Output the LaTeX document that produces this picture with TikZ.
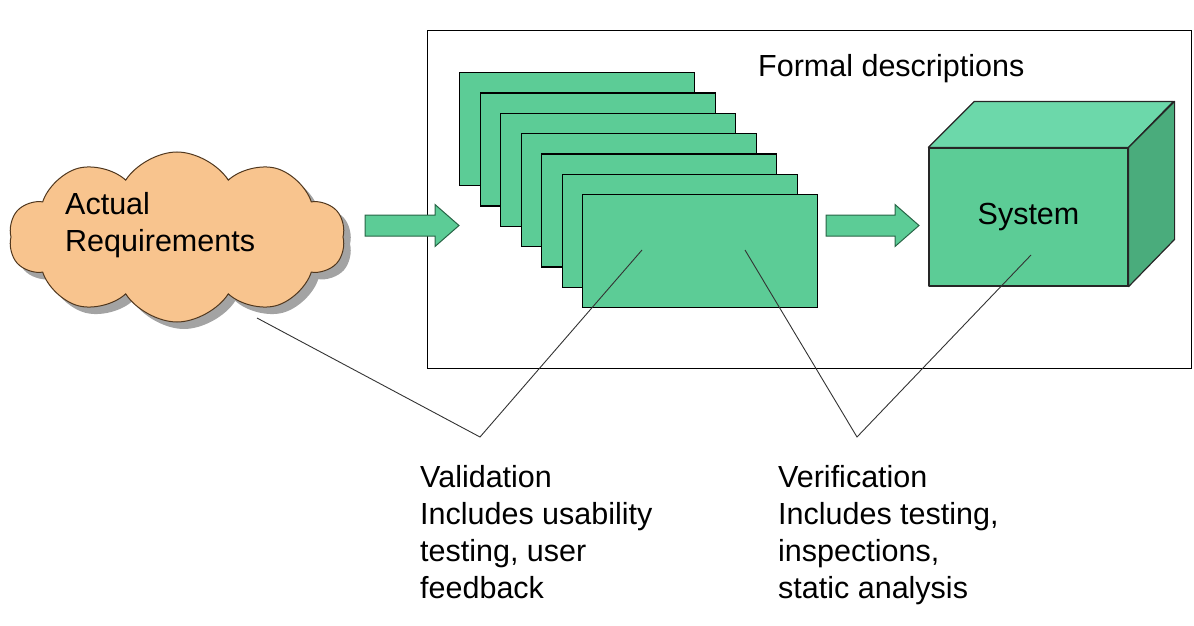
\documentclass[tikz,border=0pt]{standalone}
\usepackage{fontspec}
\setmainfont{Liberation Sans}
\usetikzlibrary{shapes.symbols,shadows}
\definecolor{pg}{RGB}{92,204,150}
\definecolor{pgtop}{RGB}{108,216,170}
\definecolor{pgside}{RGB}{74,172,124}
\definecolor{pgline}{RGB}{40,100,70}
\definecolor{cloudfill}{RGB}{248,196,142}
\definecolor{cloudline}{RGB}{80,55,30}
\begin{document}
\begin{tikzpicture}[x=1pt,y=-1pt,
  font=\fontsize{30.5}{37}\selectfont,
  page/.style={draw=black, line width=1.4pt, fill=pg, minimum width=235pt, minimum height=113pt, anchor=north west, inner sep=0pt},
  blockarrow/.style={draw=pgline, line width=1pt, fill=pg},
  conn/.style={draw=black!80, line width=0.9pt},
  lbl/.style={anchor=base west, inner sep=0pt},
  face/.style={draw=black!85, line width=1.2pt, line join=round}]
\useasboundingbox (0,0) rectangle (1194,626);
% frame
\node[draw=black, line width=1.4pt, minimum width=764pt, minimum height=338pt, anchor=north west, inner sep=0pt] (frame) at (427,30) {};
\node[lbl] (formal) at (758,77) {Formal descriptions};
% cloud
\node[cloud, cloud puffs=10, cloud puff arc=115, aspect=2.0, draw=cloudline, line width=1pt, fill=cloudfill,
  minimum width=336pt, minimum height=170pt, inner sep=0pt,
  drop shadow={shadow xshift=7pt, shadow yshift=-7pt, fill=black!45, opacity=0.8}] (cloud) at (177,237) {};
\node[lbl] (req) at (65,214) {\begin{tabular}[t]{@{}l@{}}Actual\\Requirements\end{tabular}};
% block arrows
\coordinate (a1) at (365,225.5);
\coordinate (a2) at (826,225.5);
\draw[blockarrow] (a1) ++(0,-10.5) -- ++(70,0) -- ++(0,-10.5) -- ++(24,21) -- ++(-24,21) -- ++(0,-10.5) -- ++(-70,0) -- cycle;
\draw[blockarrow] (a2) ++(0,-10.5) -- ++(69,0) -- ++(0,-10.5) -- ++(24,21) -- ++(-24,21) -- ++(0,-10.5) -- ++(-69,0) -- cycle;
% stacked pages
\foreach \i in {0,...,6} {
  \node[page] (p\i) at ({459+20.5*\i},{72+20.3*\i}) {};
}
% cube
\node[face, fill=pg, minimum width=199pt, minimum height=138pt, inner sep=0pt] (sys) at (1028.5,217) {System};
\draw[face, fill=pgtop] (sys.north west) -- ++(46,-46) -- ++(199,0) -- (sys.north east) -- cycle;
\draw[face, fill=pgside] (sys.north east) -- ++(46,-46) -- ++(0,138) -- (sys.south east) -- cycle;
% connector lines
\coordinate (c1) at (257,318);
\coordinate (v1) at (480,437);
\coordinate (pa) at (642,250);
\coordinate (pb) at (745,250);
\coordinate (v2) at (857,437);
\coordinate (sp) at (1031,255);
\draw[conn] (c1) -- (v1) -- (pa);
\draw[conn] (pb) -- (v2) -- (sp);
% labels
\node[lbl] (val) at (420,487) {\begin{tabular}[t]{@{}l@{}}Validation\\Includes usability\\testing, user\\feedback\end{tabular}};
\node[lbl] (ver) at (778,487) {\begin{tabular}[t]{@{}l@{}}Verification\\Includes testing,\\inspections,\\static analysis\end{tabular}};
\end{tikzpicture}
\end{document}
